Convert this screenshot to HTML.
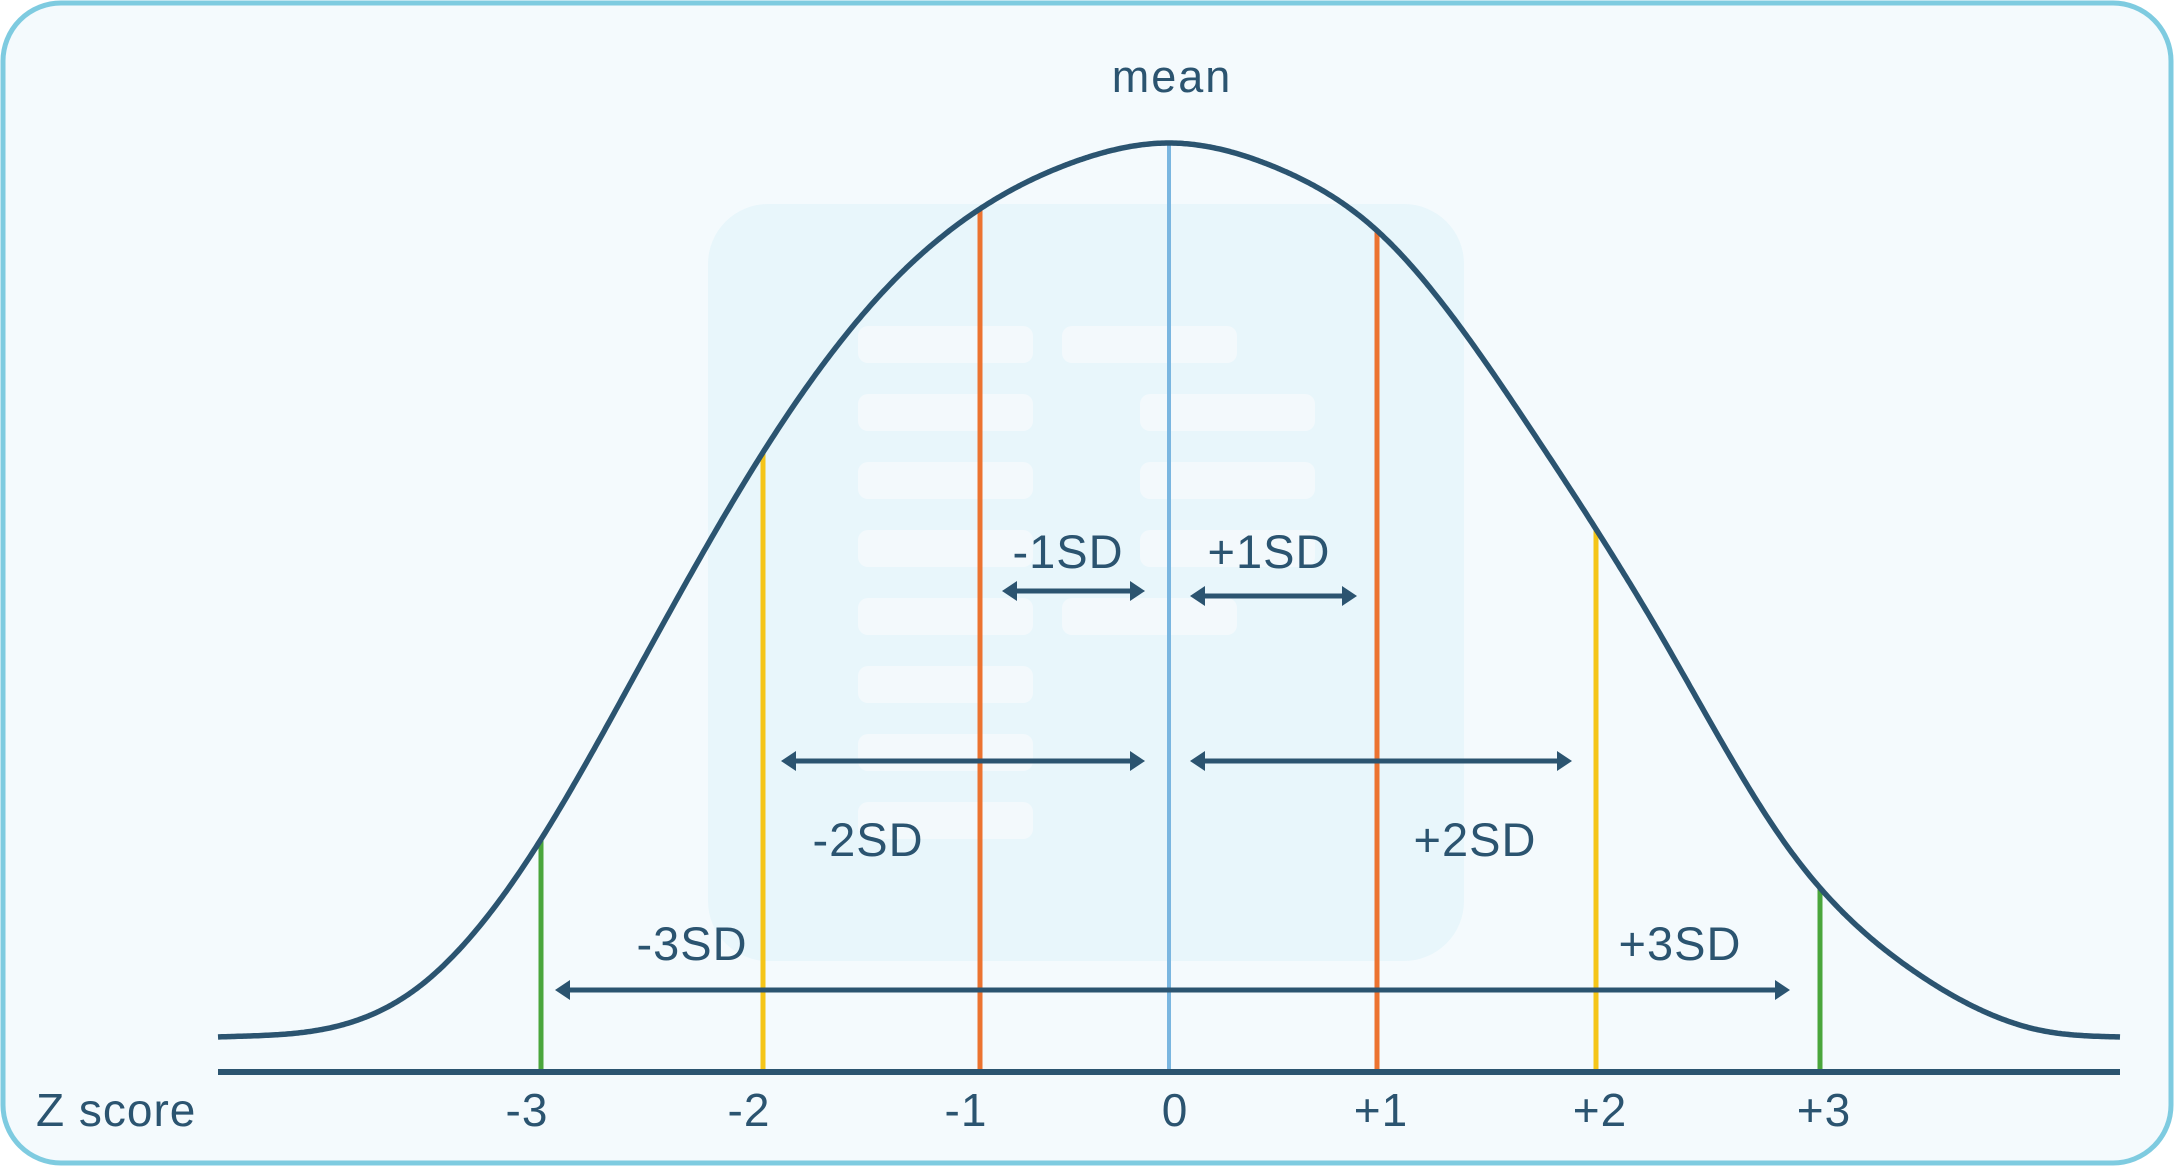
<!DOCTYPE html>
<html><head><meta charset="utf-8"><style>
html,body{margin:0;padding:0;background:#fff;}
svg{display:block;font-family:"Liberation Sans","DejaVu Sans",sans-serif;}
</style></head><body>
<svg id="chart" width="2174" height="1166" viewBox="0 0 2174 1166">
<rect x="3" y="3" width="2168" height="1160" rx="58" fill="#f4fafd" stroke="#7ecbe0" stroke-width="5"/>
<rect x="708" y="204" width="756" height="757" rx="60" fill="#e8f6fb"/>
<g id="deco"></g>
<g id="marks"></g>
</svg>
<script>
const zValues=[-3,-2,-1,0,1,2,3];
const tickLabels=["-3","-2","-1","0","+1","+2","+3"];
const lineColors=["#4aa63c","#f5c518","#ec7330","#7ab6e0","#ec7330","#f5c518","#4aa63c"];
const curveZ=[-3.56,-3.21,-3.01,-2.57,-2.0,-1.43,-0.5,0,0.52,1.0,1.71,2.29,2.86,3.29,3.69,3.93];
const curveH=[0,0.057,0.211,0.408,0.654,0.838,0.979,1,0.972,0.902,0.677,0.449,0.211,0.074,0.007,0];
const sdZ=[1,2,3];
const sdLabels=["1SD","2SD","3SD"];
const knotZ=[-3.56,-3,-2,-1,0,1,2,3,3.93];
const knotX=[218,541,763,980,1169,1377,1596,1820,2120];
function xs(z){for(let i=0;i<knotZ.length-1;i++){if(z<=knotZ[i+1]||i===knotZ.length-2){const t=(z-knotZ[i])/(knotZ[i+1]-knotZ[i]);return knotX[i]+t*(knotX[i+1]-knotX[i]);}}}
const yBase=1037,yTop=143;
function ys(h){return yBase-h*(yBase-yTop);}
const NS="http://www.w3.org/2000/svg";
const svg=document.getElementById('marks');
const deco=document.getElementById('deco');
function mk(tag,attrs,parent){const e=document.createElementNS(NS,tag);for(const k in attrs)e.setAttribute(k,attrs[k]);(parent||svg).appendChild(e);return e;}
const rowsY=[326,394,462,530,598,666,734,802];
const colRight=[1062,1140,1140,1140,1062,null,null,null];
rowsY.forEach((y,i)=>{
 const r=mk('rect',{x:858,y:y,width:175,height:37,rx:10,fill:'#f3f9fc'},deco);
 
 
 if(colRight[i]){const r2=mk('rect',{x:colRight[i],y:y,width:175,height:37,rx:10,fill:'#f3f9fc'},deco);
 
 }
});
const px=curveZ.map(xs), py=curveH.map(ys);
const n=px.length;
const s0=-0.04, sN=0.03;
const M=(function(){
 const a=new Array(n).fill(0),b=new Array(n).fill(0),c=new Array(n).fill(0),r=new Array(n).fill(0);
 const h0=px[1]-px[0];
 b[0]=2*h0;c[0]=h0;r[0]=6*((py[1]-py[0])/h0-s0);
 for(let i=1;i<n-1;i++){const hl=px[i]-px[i-1],hr=px[i+1]-px[i];
  a[i]=hl;b[i]=2*(hl+hr);c[i]=hr;r[i]=6*((py[i+1]-py[i])/hr-(py[i]-py[i-1])/hl);}
 const hn=px[n-1]-px[n-2];
 a[n-1]=hn;b[n-1]=2*hn;r[n-1]=6*(sN-(py[n-1]-py[n-2])/hn);
 for(let i=1;i<n;i++){const w=a[i]/b[i-1];b[i]-=w*c[i-1];r[i]-=w*r[i-1];}
 const s=new Array(n);
 s[n-1]=r[n-1]/b[n-1];
 for(let i=n-2;i>=0;i--)s[i]=(r[i]-c[i]*s[i+1])/b[i];
 return s;
})();
function yAtX(x){
 for(let i=0;i<n-1;i++){if(x<=px[i+1]||i===n-2){const h=px[i+1]-px[i],A=(px[i+1]-x)/h,B=(x-px[i])/h;
  return A*py[i]+B*py[i+1]+((A*A*A-A)*M[i]+(B*B*B-B)*M[i+1])*h*h/6;}}
}
zValues.forEach((z,i)=>{
 const l=mk('line',{x1:xs(z),x2:xs(z),y1:yAtX(xs(z)),y2:1072,stroke:lineColors[i],'stroke-width':z===0?4:5});
 
 
});
let d='';
for(let x=px[0];x<=px[n-1];x+=2){d+=(d?' L':'M')+x.toFixed(1)+','+yAtX(x).toFixed(1);}
d+=' L'+px[n-1]+','+py[n-1];
const c=mk('path',{d:d,fill:'none',stroke:'#2b5470','stroke-width':5.5,'stroke-linejoin':'round'});


const ax=mk('line',{x1:218,x2:2120,y1:1072,y2:1072,stroke:'#2b5470','stroke-width':6});


zValues.forEach((z,i)=>{
 const t=mk('text',{x:xs(z)+(z<0?-14:z>0?4:6),y:1126,'text-anchor':'middle','font-size':46,'letter-spacing':1,fill:'#2b5470'});
 t.textContent=tickLabels[i];
 
 
});
const zt=mk('text',{x:36,y:1126,'font-size':46,'letter-spacing':1,fill:'#2b5470'});zt.textContent='Z score';


const mt=mk('text',{x:1172,y:92,'text-anchor':'middle','font-size':45,'letter-spacing':2,fill:'#2b5470'});mt.textContent='mean';


function arrow(x1,x2,y,name){
 const g=mk('g',{});
 
 
 mk('line',{x1:x1+10,x2:x2-10,y1:y,y2:y,stroke:'#2b5470','stroke-width':5},g);
 mk('polygon',{points:`${x1},${y} ${x1+15},${y-10} ${x1+15},${y+10}`,fill:'#2b5470'},g);
 mk('polygon',{points:`${x2},${y} ${x2-15},${y-10} ${x2-15},${y+10}`,fill:'#2b5470'},g);
}
const arrY=[[591,596],[761,761],[990,990]];
const lblPos=[[[1068,568],[1269,568]],[[868,856],[1475,856]],[[692,960],[1680,960]]];
sdZ.forEach((k,i)=>{
 if(k<3){
  arrow(xs(-k)+(k===1?22:18),xs(0)-24,arrY[i][0],'arrow-minus-'+k+'sd');
  arrow(xs(0)+21,xs(k)-(k===1?20:24),arrY[i][1],'arrow-plus-'+k+'sd');
 } else {
  arrow(xs(-k)+14,xs(k)-30,arrY[i][0],'arrow-3sd');
 }
 ['-','+'].forEach((s,j)=>{
  const t=mk('text',{x:lblPos[i][j][0],y:lblPos[i][j][1],'text-anchor':'middle','font-size':47,'letter-spacing':1,fill:'#2b5470'});
  t.textContent=s+sdLabels[i];
  
  
 });
});
</script>
</body></html>
